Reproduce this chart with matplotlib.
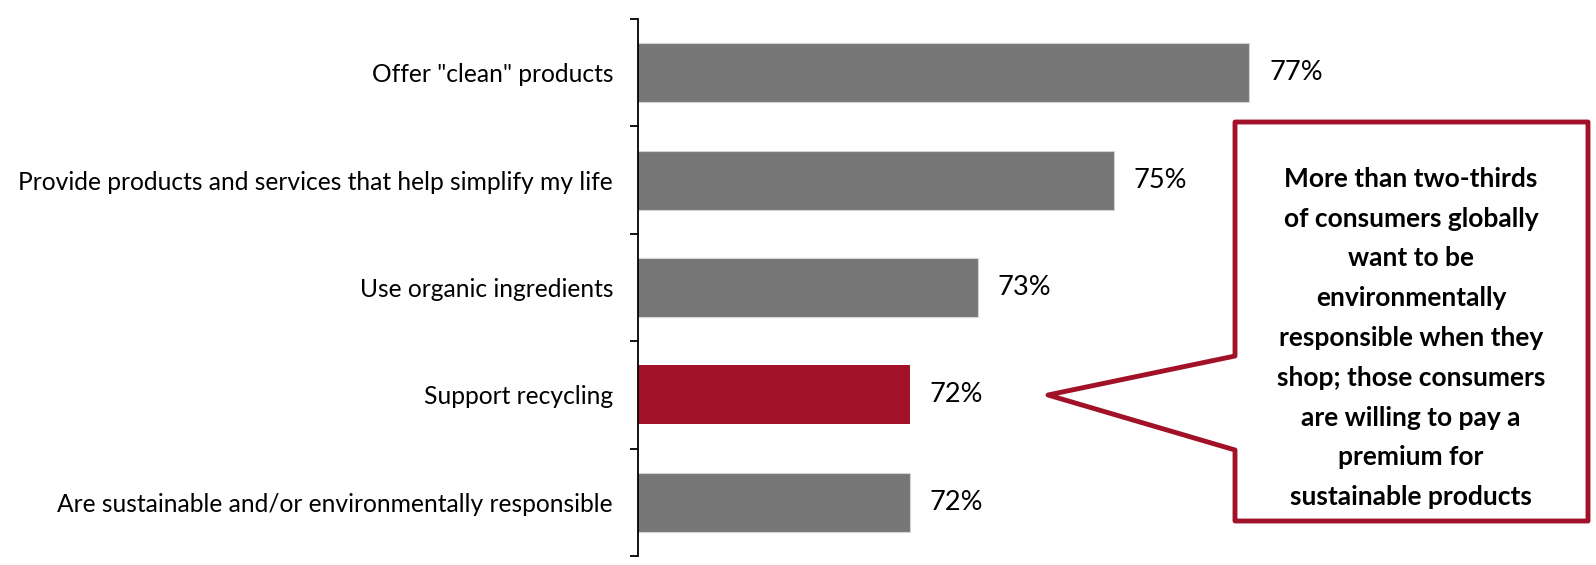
import matplotlib
matplotlib.use("Agg")
import matplotlib.pyplot as plt
from matplotlib.patches import Polygon
import numpy as np

categories = [
    'Offer "clean" products',
    'Provide products and services that help simplify my life',
    'Use organic ingredients',
    'Support recycling',
    'Are sustainable and/or environmentally responsible',
]
values = [77, 75, 73, 72, 72]
labels = ["77%", "75%", "73%", "72%", "72%"]
highlight = "Support recycling"
callout_text = ("More than two-thirds\nof consumers globally\nwant to be\nenvironmentally\n"
                "responsible when they\nshop; those consumers\nare willing to pay a\n"
                "premium for\nsustainable products")

GREY = "#767676"
RED = "#A11127"
FONT = ["Lato", "DejaVu Sans"]
plt.rcParams["font.family"] = FONT

W, H = 1596, 565
fig = plt.figure(figsize=(W / 100, H / 100), dpi=100)
# axes placement in pixels
ax_left, ax_right, ax_top, ax_bot = 638, 1589, 19, 556
ax = fig.add_axes([ax_left / W, 1 - ax_bot / H, (ax_right - ax_left) / W, (ax_bot - ax_top) / H])

y = np.arange(len(categories))
colors = [RED if c == highlight else GREY for c in categories]
bars = ax.barh(y, values, left=0, height=0.55, color=colors, zorder=2)
for b, c in zip(bars, colors):
    if c == GREY:
        b.set_edgecolor("#d4d4d4")
        b.set_linewidth(0.8)

ax.set_xlim(68, 82)
ax.set_ylim(len(categories) - 0.5, -0.5)

for yi, v, lab in zip(y, values, labels):
    ax.annotate(lab, (v, yi), xytext=(14.5, 0), textcoords="offset points",
                ha="left", va="center", fontsize=19.5, color="black")

ax.set_yticks(y)
ax.set_yticklabels(categories, fontsize=17.7)
ax.tick_params(axis="y", which="major", length=0, pad=18)
ax.set_yticks(np.arange(-0.5, len(categories) + 0.5, 1), minor=True)
ax.tick_params(axis="y", which="minor", length=6, width=1.3, color="black")
ax.set_xticks([])
for s in ["top", "right", "bottom"]:
    ax.spines[s].set_visible(False)
ax.spines["left"].set_linewidth(1.3)

# callout shape (pixel coords from top-left -> figure fraction)
pts_px = [(1235, 122), (1588, 122), (1588, 521), (1235, 521), (1235, 450),
          (1048, 395), (1235, 356)]
pts = [(x / W, 1 - yy / H) for x, yy in pts_px]
poly = Polygon(pts, closed=True, facecolor="white", edgecolor=RED, linewidth=3.5,
               joinstyle="round", transform=fig.transFigure, zorder=5)
fig.patches.append(poly)
fig.text(1411 / W, 1 - 338 / H, callout_text, ha="center", va="center",
         fontsize=19, fontweight="bold", linespacing=1.79, color="black", zorder=6)

fig.savefig("out.png", dpi=100, facecolor="white")
